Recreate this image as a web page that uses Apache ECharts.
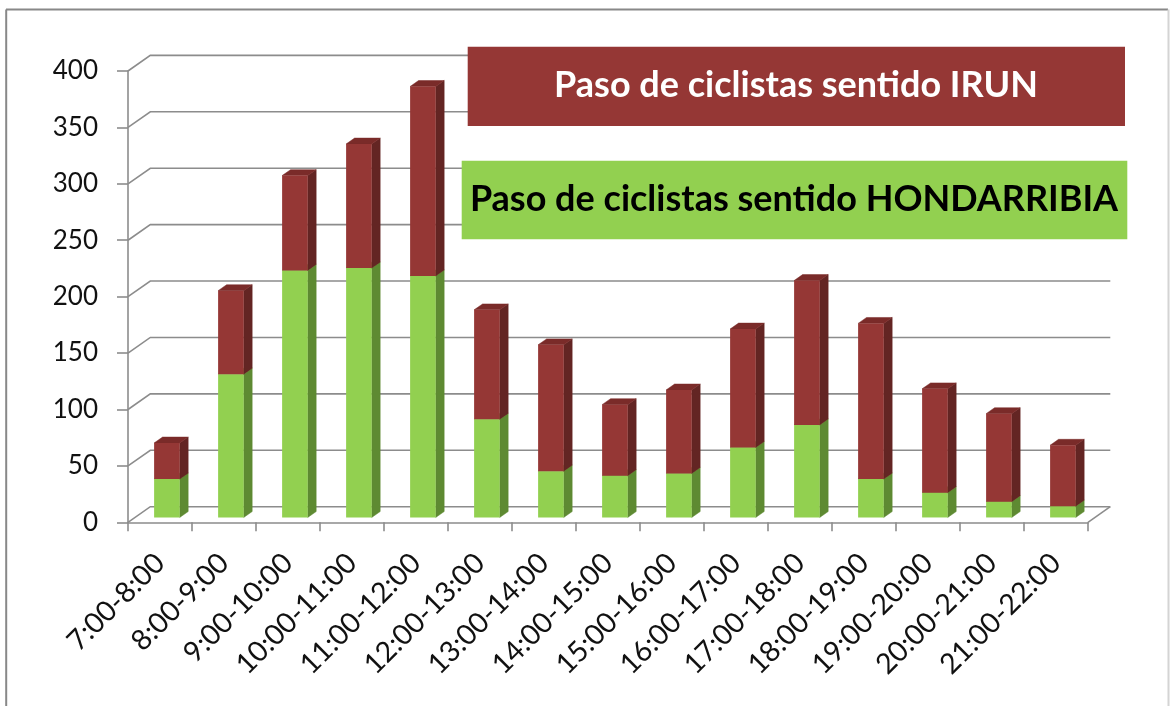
<!DOCTYPE html>
<html>
<head>
<meta charset="utf-8">
<script src="https://cdn.jsdelivr.net/npm/echarts@6/dist/echarts.min.js"></script>
<style>
html,body{margin:0;padding:0;background:#fff;}
#c{width:1170px;height:706px;}
</style>
</head>
<body>
<div id="c"></div>
<script>
// ---- data ----
const categories = ['7:00-8:00','8:00-9:00','9:00-10:00','10:00-11:00','11:00-12:00','12:00-13:00','13:00-14:00','14:00-15:00','15:00-16:00','16:00-17:00','17:00-18:00','18:00-19:00','19:00-20:00','20:00-21:00','21:00-22:00'];
const hondarribia = [34, 127, 219, 221, 214, 87, 41, 37, 39, 62, 82, 34, 22, 14, 10];
const irun = [32, 74, 84, 110, 168, 97, 112, 63, 74, 105, 128, 138, 92, 78, 54];
const yTicks = [0, 50, 100, 150, 200, 250, 300, 350, 400];
const legendIrun = 'Paso de ciclistas sentido IRUN';
const legendHondarribia = 'Paso de ciclistas sentido HONDARRIBIA';

// ---- 3D look (styles only) ----
const DEPTH = [22.3, -15.6];
const BAR_FRONT = 0.31, BAR_BACK = 0.69, BAR_W = 0.40;
const GRID_COLOR = '#8c8c8c';

function barRender(colors) {
  return function (params, api) {
    const idx = api.value(0), base = api.value(1), top = api.value(2);
    const p0 = api.coord([idx, base]);
    const p1 = api.coord([idx, top]);
    const band = api.size([1, 0])[0];
    const w = band * BAR_W;
    const fx = DEPTH[0] * BAR_FRONT, fy = DEPTH[1] * BAR_FRONT;
    const sx = DEPTH[0] * (BAR_BACK - BAR_FRONT), sy = DEPTH[1] * (BAR_BACK - BAR_FRONT);
    const x1 = p0[0] - w / 2 + fx, x2 = x1 + w;
    const yb = p0[1] + fy, yt = p1[1] + fy;
    return {
      type: 'group',
      children: [
        { type: 'polygon', shape: { points: [[x2, yb], [x2, yt], [x2 + sx, yt + sy], [x2 + sx, yb + sy]] },
          style: { fill: colors.side, stroke: colors.side, lineWidth: 0.5 } },
        { type: 'polygon', shape: { points: [[x1, yt], [x2, yt], [x2 + sx, yt + sy], [x1 + sx, yt + sy]] },
          style: { fill: colors.top, stroke: colors.top, lineWidth: 0.5 } },
        { type: 'rect', shape: { x: x1, y: yt, width: w, height: yb - yt },
          style: { fill: colors.front } }
      ]
    };
  };
}

function gridRender(params, api) {
  const v = api.value(1);
  const cs = params.coordSys;
  const y = api.coord([0, v])[1];
  const L = cs.x, R = cs.x + cs.width;
  const children = [{
    type: 'polyline',
    shape: { points: [[L, y], [L + DEPTH[0], y + DEPTH[1]], [R + DEPTH[0], y + DEPTH[1]]] },
    style: { stroke: GRID_COLOR, lineWidth: 1.6, fill: null }
  }];
  if (v === 0) {
    children.push({ type: 'line', shape: { x1: R, y1: y, x2: R + DEPTH[0], y2: y + DEPTH[1] },
      style: { stroke: GRID_COLOR, lineWidth: 1.6 } });
  }
  return { type: 'group', children };
}

const greenData = categories.map((c, i) => [i, 0, hondarribia[i]]);
const redData = categories.map((c, i) => [i, hondarribia[i], hondarribia[i] + irun[i]]);

const chart = echarts.init(document.getElementById('c'), null, { renderer: 'canvas' });
chart.setOption({
  backgroundColor: '#ffffff',
  animation: false,
  grid: { left: 128, top: 71, width: 960, height: 451.3 },
  xAxis: {
    type: 'category',
    data: categories,
    boundaryGap: true,
    axisLine: { show: true, lineStyle: { color: GRID_COLOR, width: 1.6 } },
    axisTick: { show: true, length: 9, lineStyle: { color: GRID_COLOR, width: 1.6 } },
    axisLabel: { interval: 0, rotate: 45, margin: 36, fontFamily: 'Lato', fontSize: 28.5, color: '#111' },
    splitLine: { show: false }
  },
  yAxis: {
    type: 'value',
    min: 0, max: 400, interval: 50,
    axisLine: { show: true, lineStyle: { color: GRID_COLOR, width: 1.6 } },
    axisTick: { show: true, length: 11, lineStyle: { color: GRID_COLOR, width: 1.6 } },
    axisLabel: { margin: 30, fontFamily: 'Lato', fontSize: 26, color: '#111' },
    splitLine: { show: false }
  },
  series: [
    {
      type: 'custom', name: 'grid', silent: true, z: 1,
      data: yTicks.map(v => [0, v]),
      encode: { x: 0, y: 1 },
      renderItem: gridRender
    },
    {
      type: 'custom', name: legendHondarribia, z: 3,
      data: greenData,
      encode: { x: 0, y: [1, 2] },
      renderItem: barRender({ front: '#92d050', side: '#5e8a32', top: '#76a93f' })
    },
    {
      type: 'custom', name: legendIrun, z: 4,
      data: redData,
      encode: { x: 0, y: [1, 2] },
      renderItem: barRender({ front: '#953735', side: '#632523', top: '#7a2b29' })
    }
  ],
  graphic: [
    { type: 'line', z: 100, shape: { x1: 6, y1: 9.5, x2: 1168, y2: 9.5 }, style: { stroke: '#888888', lineWidth: 2 } },
    { type: 'line', z: 100, shape: { x1: 6.2, y1: 9.5, x2: 6.2, y2: 720 }, style: { stroke: '#888888', lineWidth: 2 } },
    { type: 'line', z: 100, shape: { x1: 1168.5, y1: 9.5, x2: 1168.5, y2: 720 }, style: { stroke: '#d4d4d4', lineWidth: 2 } },
    { type: 'rect', z: 100, shape: { x: 467.7, y: 46.7, width: 657.3, height: 79.3 }, style: { fill: '#953735' } },
    { type: 'rect', z: 100, shape: { x: 461.7, y: 160.7, width: 665.6, height: 78.6 }, style: { fill: '#92d050' } },
    { type: 'text', z: 101, x: 796, y: 85,
      style: { text: legendIrun, fill: '#ffffff', font: 'bold 36px Lato', textAlign: 'center', textVerticalAlign: 'middle', align: 'center', verticalAlign: 'middle' } },
    { type: 'text', z: 101, x: 794, y: 199,
      style: { text: legendHondarribia, fill: '#000000', font: 'bold 36px Lato', textAlign: 'center', textVerticalAlign: 'middle', align: 'center', verticalAlign: 'middle' } }
  ]
});
</script>
</body>
</html>
